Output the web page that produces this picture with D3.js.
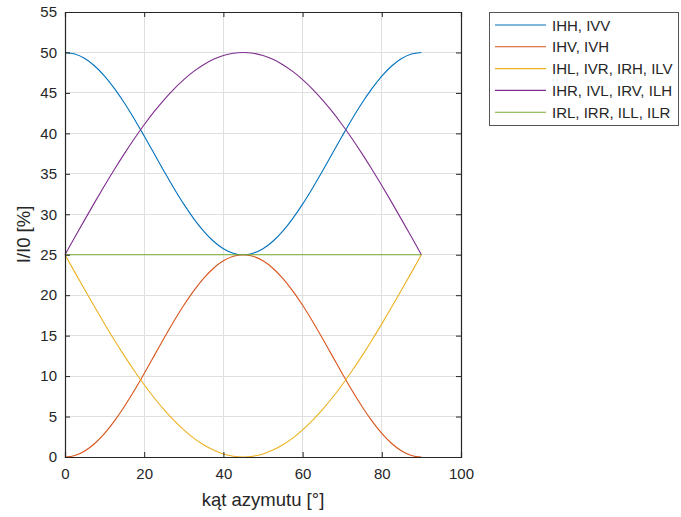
<!DOCTYPE html>
<html><head><meta charset="utf-8">
<script src="https://cdn.jsdelivr.net/npm/d3@7"></script>
<style>body{margin:0;background:#fff;} svg{display:block;font-family:"Liberation Sans",Arial,sans-serif;}</style>
</head><body><svg id="c" width="681" height="517"></svg>
<script>
const angles = [0,2.5,5,7.5,10,12.5,15,17.5,20,22.5,25,27.5,30,32.5,35,37.5,40,42.5,45,47.5,50,52.5,55,57.5,60,62.5,65,67.5,70,72.5,75,77.5,80,82.5,85,87.5,90];
const IHH = [50,49.81,49.25,48.33,47.08,45.53,43.75,41.78,39.67,37.5,35.33,33.22,31.25,29.47,27.92,26.67,25.75,25.19,25,25.19,25.75,26.67,27.92,29.47,31.25,33.22,35.33,37.5,39.67,41.78,43.75,45.53,47.08,48.33,49.25,49.81,50];
const IHV = [0,0.19,0.75,1.67,2.92,4.47,6.25,8.22,10.33,12.5,14.67,16.78,18.75,20.53,22.08,23.33,24.25,24.81,25,24.81,24.25,23.33,22.08,20.53,18.75,16.78,14.67,12.5,10.33,8.22,6.25,4.47,2.92,1.67,0.75,0.19,0];
const IHL = [25,22.82,20.66,18.53,16.45,14.43,12.5,10.66,8.93,7.32,5.85,4.52,3.35,2.34,1.51,0.85,0.38,0.10,0,0.10,0.38,0.85,1.51,2.34,3.35,4.52,5.85,7.32,8.93,10.66,12.5,14.43,16.45,18.53,20.66,22.82,25];
const IHR = [25,27.18,29.34,31.47,33.55,35.57,37.5,39.34,41.07,42.68,44.15,45.48,46.65,47.66,48.49,49.15,49.62,49.90,50,49.90,49.62,49.15,48.49,47.66,46.65,45.48,44.15,42.68,41.07,39.34,37.5,35.57,33.55,31.47,29.34,27.18,25];
const IRL = [25,25,25,25,25,25,25,25,25,25,25,25,25,25,25,25,25,25,25,25,25,25,25,25,25,25,25,25,25,25,25,25,25,25,25,25,25];
const seriesNames = ["IHH, IVV","IHV, IVH","IHL, IVR, IRH, ILV","IHR, IVL, IRV, ILH","IRL, IRR, ILL, ILR"];
const seriesValues = [IHH, IHV, IHL, IHR, IRL];
const colors = ["#0072BD","#D95319","#EDB120","#7E2F8E","#77AC30"];
const xTicks = [0,20,40,60,80,100];
const yTicks = [0,5,10,15,20,25,30,35,40,45,50,55];
const xLabel = "kąt azymutu [°]";
const yLabel = "I/I0 [%]";

const L=65, R=461, T=12, B=457;
const svg = d3.select("#c");
const x = d3.scaleLinear().domain([0,100]).range([L,R]);
const y = d3.scaleLinear().domain([0,55]).range([B,T]);
const axc = "#262626";

// grid
const g = svg.append("g");
g.selectAll(".gx").data(xTicks.slice(1,-1)).enter().append("line")
  .attr("x1",d=>x(d)).attr("x2",d=>x(d)).attr("y1",T).attr("y2",B)
  .attr("stroke","#dfdfdf").attr("stroke-width",1).attr("shape-rendering","crispEdges");
g.selectAll(".gy").data(yTicks.slice(1,-1)).enter().append("line")
  .attr("x1",L).attr("x2",R).attr("y1",d=>y(d)).attr("y2",d=>y(d))
  .attr("stroke","#dfdfdf").attr("stroke-width",1).attr("shape-rendering","crispEdges");

// lines
const line = d3.line().x((d,i)=>x(angles[i])).y(d=>y(d)).curve(d3.curveMonotoneX);
seriesValues.forEach((s,k)=>{
  svg.append("path").datum(s).attr("d",line).attr("fill","none")
    .attr("stroke",colors[k]).attr("stroke-width",1.1);
});

// axes
const fs = "15px";
const ax = svg.append("g").attr("transform",`translate(0,${B})`).call(d3.axisBottom(x).tickValues(xTicks).tickSize(-5).tickPadding(11));
const ay = svg.append("g").attr("transform",`translate(${L},0)`).call(d3.axisLeft(y).tickValues(yTicks).tickSize(-5).tickPadding(8));
const axt = svg.append("g").attr("transform",`translate(0,${T})`).call(d3.axisTop(x).tickValues(xTicks).tickSize(-5).tickFormat(""));
const ayr = svg.append("g").attr("transform",`translate(${R},0)`).call(d3.axisRight(y).tickValues(yTicks).tickSize(-5).tickFormat(""));
[ax,ay,axt,ayr].forEach(a=>{
  a.select(".domain").attr("stroke",axc).attr("stroke-width",1.2);
  a.selectAll(".tick line").attr("stroke",axc);
  a.selectAll("text").attr("fill",axc).style("font-size",fs).style("font-family","'Liberation Sans',Arial,sans-serif");
});

svg.append("text").attr("x",(L+R)/2).attr("y",506).attr("text-anchor","middle")
  .attr("fill",axc).style("font-size","18.5px").text(xLabel);
svg.append("text").attr("transform",`translate(30,${(T+B)/2}) rotate(-90)`).attr("text-anchor","middle")
  .attr("fill",axc).style("font-size","18.5px").text(yLabel);

// legend
const lg = svg.append("g");
lg.append("rect").attr("x",489.5).attr("y",12.5).attr("width",189).attr("height",113)
  .attr("fill","#fff").attr("stroke","#555").attr("stroke-width",1);
seriesNames.forEach((n,k)=>{
  const yy = 25 + k*21.8;
  lg.append("line").attr("x1",495).attr("x2",546).attr("y1",yy).attr("y2",yy)
    .attr("stroke",colors[k]).attr("stroke-width",1.1);
  lg.append("text").attr("x",552).attr("y",yy+5.5).attr("fill",axc)
    .style("font-size","15px").text(n);
});
</script></body></html>
